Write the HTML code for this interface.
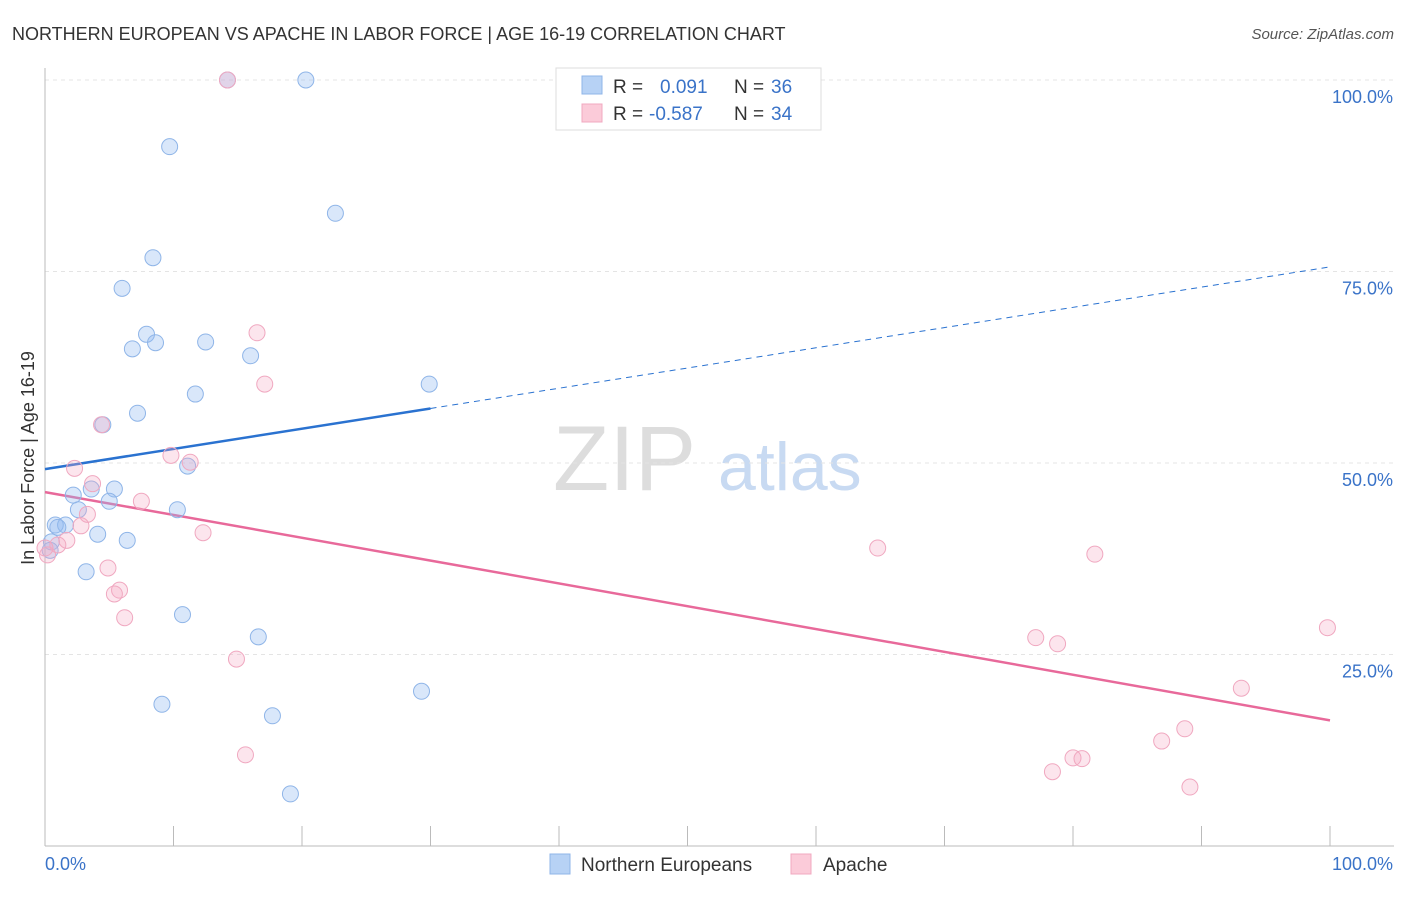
<!DOCTYPE html>
<html><head><meta charset="utf-8"><style>
body{margin:0;background:#fff;font-family:"Liberation Sans",sans-serif;}
svg text{font-family:"Liberation Sans",sans-serif;}
</style></head><body>
<svg id="chart" width="1406" height="892">
<text x="12" y="40" font-size="18" fill="#333">NORTHERN EUROPEAN VS APACHE IN LABOR FORCE | AGE 16-19 CORRELATION CHART</text>
<text x="1394" y="39" font-size="15" fill="#555" text-anchor="end" font-style="italic">Source: ZipAtlas.com</text>
<text x="553" y="490" font-size="92" fill="#ddd" font-family="Liberation Serif">ZIP</text>
<text x="718" y="490" font-size="68" fill="#c8daf2">atlas</text>
<g id="grid"></g><g id="axes"></g><g id="lines"></g><g id="pts"></g>
<text transform="translate(34,458) rotate(-90)" font-size="18" fill="#333" text-anchor="middle">In Labor Force | Age 16-19</text>
<g>
<rect x="556" y="68" width="265" height="62" fill="#fff" stroke="#ddd"/>
<rect x="582" y="76" width="20" height="18" fill="#b7d2f5" stroke="#8fb5e8"/>
<rect x="582" y="104" width="20" height="18" fill="#fbcbd9" stroke="#f0a8c0"/>
<text x="613" y="93" font-size="19" fill="#333">R =</text>
<text x="660" y="93" font-size="19" fill="#3a73c8">0.091</text>
<text x="734" y="93" font-size="19" fill="#333">N =</text>
<text x="771" y="93" font-size="19" fill="#3a73c8">36</text>
<text x="613" y="120" font-size="19" fill="#333">R =</text>
<text x="649" y="120" font-size="19" fill="#3a73c8">-0.587</text>
<text x="734" y="120" font-size="19" fill="#333">N =</text>
<text x="771" y="120" font-size="19" fill="#3a73c8">34</text>
</g>
<g>
<rect x="550" y="854" width="20" height="20" fill="#b7d2f5" stroke="#8fb5e8"/>
<text x="581" y="871" font-size="19" fill="#333">Northern Europeans</text>
<rect x="791" y="854" width="20" height="20" fill="#fbcbd9" stroke="#f0a8c0"/>
<text x="823" y="871" font-size="19" fill="#333">Apache</text>
</g>
</svg>
<script>
const yTicks=[25,50,75,100];
const yTickLabels=["25.0%","50.0%","75.0%","100.0%"];
const blueX=[14.2,20.3,9.7,22.6,8.4,6,7.9,6.8,8.6,12.5,16,29.9,11.7,7.2,4.5,11.1,2.2,3.6,5.4,5,2.6,10.3,0.8,1.6,4.1,6.4,0.5,0.4,3.2,10.7,16.6,9.1,29.3,17.7,19.1,1];
const blueY=[100,100,91.3,82.6,76.8,72.8,66.8,64.9,65.7,65.8,64,60.3,59,56.5,55,49.6,45.8,46.6,46.6,45,43.9,43.9,41.9,41.9,40.7,39.9,39.7,38.6,35.8,30.2,27.3,18.5,20.2,17,6.8,41.6];
const pinkX=[14.2,16.5,17.1,4.4,9.8,11.3,2.3,3.7,7.5,3.3,2.8,12.3,1.7,1,0.2,4.9,5.8,5.4,6.2,14.9,15.6,64.8,81.7,77.1,78.8,99.8,93.1,88.7,86.9,80,80.7,78.4,89.1,0];
const pinkY=[100,67,60.3,55,51,50.1,49.3,47.3,45,43.3,41.8,40.9,39.9,39.3,38,36.3,33.4,32.9,29.8,24.4,11.9,38.9,38.1,27.2,26.4,28.5,20.6,15.3,13.7,11.5,11.4,9.7,7.7,38.9];
const blueTrend=[49.2,75.6], pinkTrend=[46.2,16.4];
const NS="http://www.w3.org/2000/svg";
const X=v=>45+v*12.85, Y=v=>846-v*7.66;
function mk(t,a,p){const e=document.createElementNS(NS,t);for(const k in a)e.setAttribute(k,a[k]);document.getElementById(p).appendChild(e);return e;}
yTicks.forEach((t,i)=>{
 const g=mk('line',{x1:45,x2:1394,y1:Y(t),y2:Y(t),stroke:'#e4e4e4','stroke-dasharray':'4,4'},'grid');
 
 
 const l=mk('text',{x:1393,y:Y(t)+23,'font-size':18,fill:'#3a73c8','text-anchor':'end'},'axes');
 l.textContent=yTickLabels[i];
 
 
});
const ax=mk('line',{x1:45,x2:1394,y1:846,y2:846,stroke:'#bbb'},'axes');


const ay=mk('line',{x1:45,x2:45,y1:68,y2:846,stroke:'#bbb'},'axes');


for(let i=1;i<=10;i++){const t=mk('line',{x1:X(i*10),x2:X(i*10),y1:826,y2:846,stroke:'#bbb'},'axes');
 
 }
const xl0=mk('text',{x:45,y:870,'font-size':18,fill:'#3a73c8'},'axes');xl0.textContent='0.0%';


const xl1=mk('text',{x:1393,y:870,'font-size':18,fill:'#3a73c8','text-anchor':'end'},'axes');xl1.textContent='100.0%';


const by=x=>blueTrend[0]+(blueTrend[1]-blueTrend[0])*x/100;
const b1=mk('line',{x1:X(0),y1:Y(by(0)),x2:X(30),y2:Y(by(30)),stroke:'#2a72d0','stroke-width':2.5},'lines');


const b2=mk('line',{x1:X(30),y1:Y(by(30)),x2:X(100),y2:Y(by(100)),stroke:'#2a72d0','stroke-width':1,'stroke-dasharray':'6,5'},'lines');


const p1=mk('line',{x1:X(0),y1:Y(pinkTrend[0]),x2:X(100),y2:Y(pinkTrend[1]),stroke:'#e8699a','stroke-width':2.5},'lines');


blueX.forEach((x,i)=>{const c=mk('circle',{cx:X(x),cy:Y(blueY[i]),r:8,fill:'rgba(147,187,240,0.35)',stroke:'#8fb5e8','stroke-width':1},'pts');
 
 });
pinkX.forEach((x,i)=>{const c=mk('circle',{cx:X(x),cy:Y(pinkY[i]),r:8,fill:'rgba(244,170,195,0.3)',stroke:'#f0a8c0','stroke-width':1},'pts');
 
 });
</script>
</body></html>
